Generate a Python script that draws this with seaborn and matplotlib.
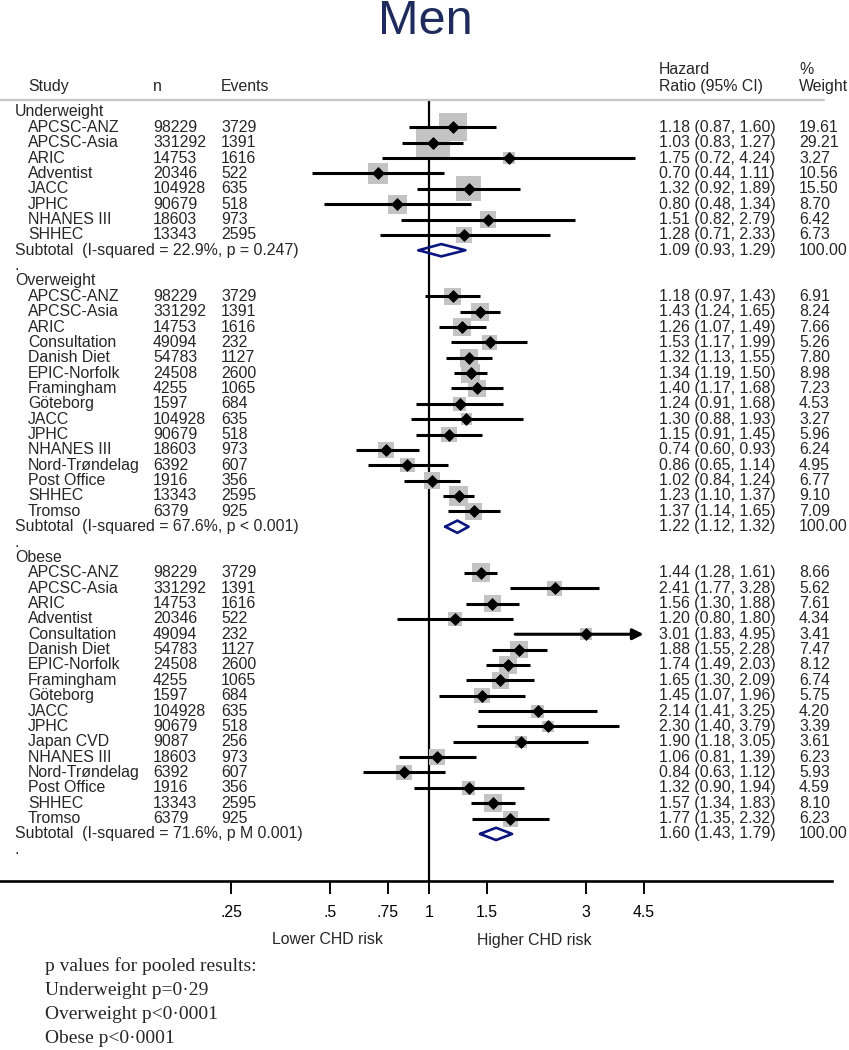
import matplotlib.pyplot as plt
import matplotlib.transforms as mtransforms
from matplotlib.ticker import NullLocator
import numpy as np
import pandas as pd
import seaborn as sns

# Underweight
uw_study = ['APCSC-ANZ', 'APCSC-Asia', 'ARIC', 'Adventist', 'JACC', 'JPHC', 'NHANES III', 'SHHEC']
uw_n = [98229, 331292, 14753, 20346, 104928, 90679, 18603, 13343]
uw_events = [3729, 1391, 1616, 522, 635, 518, 973, 2595]
uw_hr = [1.18, 1.03, 1.75, 0.70, 1.32, 0.80, 1.51, 1.28]
uw_lo = [0.87, 0.83, 0.72, 0.44, 0.92, 0.48, 0.82, 0.71]
uw_hi = [1.60, 1.27, 4.24, 1.11, 1.89, 1.34, 2.79, 2.33]
uw_wt = [19.61, 29.21, 3.27, 10.56, 15.50, 8.70, 6.42, 6.73]
uw_sub = [1.09, 0.93, 1.29]
uw_label = 'Subtotal  (I-squared = 22.9%, p = 0.247)'

# Overweight
ow_study = ['APCSC-ANZ', 'APCSC-Asia', 'ARIC', 'Consultation', 'Danish Diet', 'EPIC-Norfolk',
            'Framingham', 'Göteborg', 'JACC', 'JPHC', 'NHANES III', 'Nord-Trøndelag',
            'Post Office', 'SHHEC', 'Tromso']
ow_n = [98229, 331292, 14753, 49094, 54783, 24508, 4255, 1597, 104928, 90679, 18603, 6392,
        1916, 13343, 6379]
ow_events = [3729, 1391, 1616, 232, 1127, 2600, 1065, 684, 635, 518, 973, 607, 356, 2595, 925]
ow_hr = [1.18, 1.43, 1.26, 1.53, 1.32, 1.34, 1.40, 1.24, 1.30, 1.15, 0.74, 0.86, 1.02, 1.23, 1.37]
ow_lo = [0.97, 1.24, 1.07, 1.17, 1.13, 1.19, 1.17, 0.91, 0.88, 0.91, 0.60, 0.65, 0.84, 1.10, 1.14]
ow_hi = [1.43, 1.65, 1.49, 1.99, 1.55, 1.50, 1.68, 1.68, 1.93, 1.45, 0.93, 1.14, 1.24, 1.37, 1.65]
ow_wt = [6.91, 8.24, 7.66, 5.26, 7.80, 8.98, 7.23, 4.53, 3.27, 5.96, 6.24, 4.95, 6.77, 9.10, 7.09]
ow_sub = [1.22, 1.12, 1.32]
ow_label = 'Subtotal  (I-squared = 67.6%, p < 0.001)'

# Obese
ob_study = ['APCSC-ANZ', 'APCSC-Asia', 'ARIC', 'Adventist', 'Consultation', 'Danish Diet',
            'EPIC-Norfolk', 'Framingham', 'Göteborg', 'JACC', 'JPHC', 'Japan CVD', 'NHANES III',
            'Nord-Trøndelag', 'Post Office', 'SHHEC', 'Tromso']
ob_n = [98229, 331292, 14753, 20346, 49094, 54783, 24508, 4255, 1597, 104928, 90679, 9087,
        18603, 6392, 1916, 13343, 6379]
ob_events = [3729, 1391, 1616, 522, 232, 1127, 2600, 1065, 684, 635, 518, 256, 973, 607, 356,
             2595, 925]
ob_hr = [1.44, 2.41, 1.56, 1.20, 3.01, 1.88, 1.74, 1.65, 1.45, 2.14, 2.30, 1.90, 1.06, 0.84,
         1.32, 1.57, 1.77]
ob_lo = [1.28, 1.77, 1.30, 0.80, 1.83, 1.55, 1.49, 1.30, 1.07, 1.41, 1.40, 1.18, 0.81, 0.63,
         0.90, 1.34, 1.35]
ob_hi = [1.61, 3.28, 1.88, 1.80, 4.95, 2.28, 2.03, 2.09, 1.96, 3.25, 3.79, 3.05, 1.39, 1.12,
         1.94, 1.83, 2.32]
ob_wt = [8.66, 5.62, 7.61, 4.34, 3.41, 7.47, 8.12, 6.74, 5.75, 4.20, 3.39, 3.61, 6.23, 5.93,
         4.59, 8.10, 6.23]
ob_sub = [1.60, 1.43, 1.79]
ob_label = 'Subtotal  (I-squared = 71.6%, p M 0.001)'

tick_vals = [0.25, 0.5, 0.75, 1, 1.5, 3, 4.5]
tick_labels = ['.25', '.5', '.75', '1', '1.5', '3', '4.5']
pooled_notes = ['p values for pooled results:', 'Underweight p=0·29',
                'Overweight p<0·0001', 'Obese p<0·0001']

# build one row table
groups = [
    ('Underweight', uw_study, uw_n, uw_events, uw_hr, uw_lo, uw_hi, uw_wt, uw_sub, uw_label),
    ('Overweight', ow_study, ow_n, ow_events, ow_hr, ow_lo, ow_hi, ow_wt, ow_sub, ow_label),
    ('Obese', ob_study, ob_n, ob_events, ob_hr, ob_lo, ob_hi, ob_wt, ob_sub, ob_label),
]
rows = []
for name, st, n, ev, hr, lo, hi, wt, sub, lab in groups:
    rows.append(dict(kind='group', label=name))
    for i in range(len(st)):
        rows.append(dict(kind='study', label=st[i], n=n[i], events=ev[i],
                         hr=hr[i], lo=lo[i], hi=hi[i], wt=wt[i]))
    rows.append(dict(kind='sub', label=lab, hr=sub[0], lo=sub[1], hi=sub[2], wt=100.0))
    rows.append(dict(kind='gap', label='.'))
df = pd.DataFrame(rows)
df['row'] = np.arange(len(df))
studies = df[df['kind'] == 'study']
subs = df[df['kind'] == 'sub']

sns.set_theme(style='white')
plt.rcParams['font.family'] = ['Liberation Sans', 'DejaVu Sans']

W, H = 849, 1050
fig = plt.figure(figsize=(W / 100, H / 100), dpi=100)

# layout in pixels
ax_left, ax_right, ax_top, ax_bot = 0, 832, 100, 881
x_one, px_per_ln = 429, 142.7
row0, row_h = 112, 15.36
ax = fig.add_axes([ax_left / W, 1 - ax_bot / H, (ax_right - ax_left) / W, (ax_bot - ax_top) / H])
ax.set_xscale('log')
ax.set_xlim(np.exp((ax_left - x_one) / px_per_ln), np.exp((ax_right - x_one) / px_per_ln))
ax.set_ylim((ax_bot - row0) / row_h, (ax_top - row0) / row_h)

fs = 11.4
cap = max(tick_vals)

# weight boxes
sns.scatterplot(x=studies['hr'], y=studies['row'], marker='s', s=studies['wt'] * 21,
                color='#c3c3c3', linewidth=0, edgecolor='none', ax=ax, zorder=2, legend=False)

# confidence intervals
for _, r in studies.iterrows():
    if r['hi'] > cap:
        ax.annotate('', xy=(cap, r['row']), xytext=(r['lo'], r['row']),
                    arrowprops=dict(arrowstyle='-|>', lw=2.2, color='black', mutation_scale=16,
                                    shrinkA=0, shrinkB=0), zorder=3)
    else:
        ax.plot([r['lo'], r['hi']], [r['row'], r['row']], color='black', lw=2.2,
                solid_capstyle='butt', zorder=3)

# point estimates
sns.scatterplot(x=studies['hr'], y=studies['row'], marker='D', s=36, color='black',
                linewidth=0.6, edgecolor='black', ax=ax, zorder=4, legend=False)

# pooled diamonds
for _, r in subs.iterrows():
    y = r['row']
    ax.plot([r['lo'], r['hr'], r['hi'], r['hr'], r['lo']], [y, y - 0.4, y, y + 0.4, y],
            color='#0b1580', lw=1.9, zorder=4)

# null line, header rule, axis
ax.axvline(1, color='black', lw=1.6, zorder=1)
ax.axhline((ax_top - row0) / row_h, xmin=0, xmax=(824 - ax_left) / (ax_right - ax_left),
           color='#c8c8c8', lw=1.6, clip_on=False)
for s in ['top', 'left', 'right']:
    ax.spines[s].set_visible(False)
ax.spines['bottom'].set_color('black')
ax.spines['bottom'].set_linewidth(1.9)
ax.set_yticks([])
ax.set_xticks(tick_vals)
ax.set_xticklabels(tick_labels)
ax.xaxis.set_minor_locator(NullLocator())
ax.tick_params(axis='x', direction='out', length=9.4, width=1.4, pad=8, labelsize=fs,
               colors='black', bottom=True)
ax.set_xlabel('')
ax.set_ylabel('')

# text columns
tr = mtransforms.blended_transform_factory(fig.transFigure, ax.transData)
for _, r in df.iterrows():
    y = r['row']
    if r['kind'] == 'study':
        ax.text(28 / W, y, r['label'], transform=tr, va='center', fontsize=fs)
        ax.text(153 / W, y, f"{int(r['n'])}", transform=tr, va='center', fontsize=fs)
        ax.text(221 / W, y, f"{int(r['events'])}", transform=tr, va='center', fontsize=fs)
    else:
        ax.text(15 / W, y, r['label'], transform=tr, va='center', fontsize=fs)
    if r['kind'] in ('study', 'sub'):
        ax.text(659 / W, y, f"{r['hr']:.2f} ({r['lo']:.2f}, {r['hi']:.2f})", transform=tr,
                va='center', fontsize=fs)
        ax.text(799 / W, y, f"{r['wt']:.2f}", transform=tr, va='center', fontsize=fs)

# headers
for x, t in [(28, 'Study'), (153, 'n'), (221, 'Events'), (659, 'Ratio (95% CI)'), (799, 'Weight')]:
    fig.text(x / W, 1 - 91 / H, t, va='baseline', fontsize=fs)
for x, t in [(659, 'Hazard'), (799, '%')]:
    fig.text(x / W, 1 - 74 / H, t, va='baseline', fontsize=fs)

fig.text(425 / W, 1 - 22 / H, 'Men', ha='center', va='center', fontsize=35, color='#1e2b5c')

fig.text(328 / W, 1 - 940 / H, 'Lower CHD risk', ha='center', va='center', fontsize=fs)
fig.text(534 / W, 1 - 940 / H, 'Higher CHD risk', ha='center', va='center', fontsize=fs)

for i, t in enumerate(pooled_notes):
    fig.text(45 / W, 1 - (966 + i * 24.3) / H, t, va='center', fontsize=14,
             family=['Liberation Serif', 'DejaVu Serif'])

fig.savefig('out.png', dpi=100)
